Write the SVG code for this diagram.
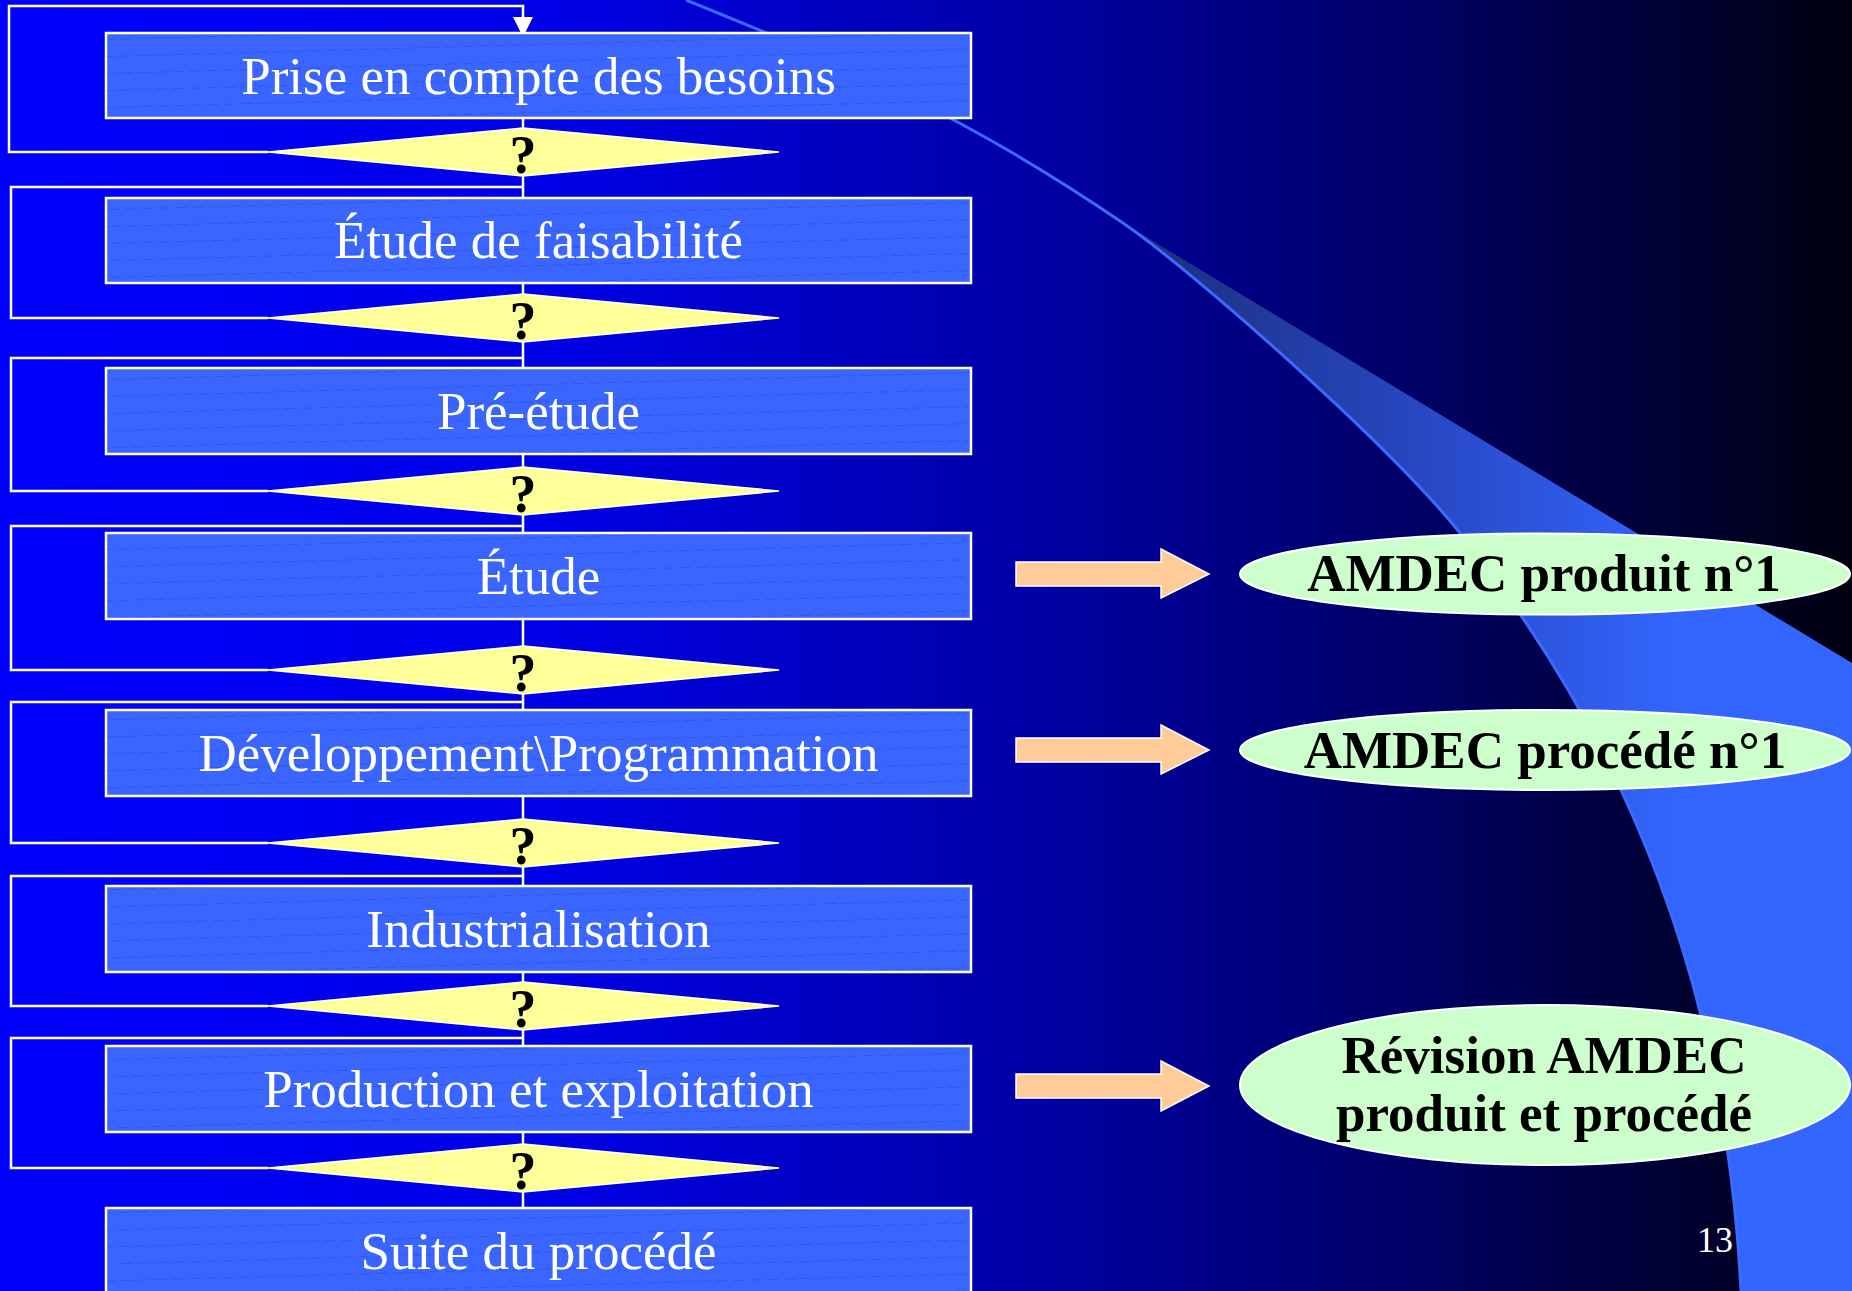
<svg xmlns="http://www.w3.org/2000/svg" width="1852" height="1291" viewBox="0 0 1852 1291">
<defs>
<linearGradient id="bg" gradientUnits="userSpaceOnUse" x1="0" y1="0" x2="1852" y2="0">
<stop offset="0" stop-color="#0000FF"/>
<stop offset="0.3" stop-color="#0000E6"/>
<stop offset="0.55" stop-color="#0000A8"/>
<stop offset="0.78" stop-color="#000060"/>
<stop offset="1" stop-color="#000010"/>
</linearGradient>
<linearGradient id="swoosh" gradientUnits="userSpaceOnUse" x1="1120" y1="0" x2="1680" y2="0">
<stop offset="0" stop-color="#1A2D78"/>
<stop offset="0.55" stop-color="#2848C4"/>
<stop offset="1" stop-color="#3366FF"/>
</linearGradient>
<pattern id="hatch" patternUnits="userSpaceOnUse" width="2400" height="17" patternTransform="rotate(-1.6)">
<rect width="2400" height="17" fill="#3A66FF"/>
<line x1="0" y1="8.5" x2="2400" y2="8.5" stroke="#2E58EA" stroke-width="1" stroke-dasharray="12 5"/>
</pattern>
<style>
.box{fill:url(#hatch);stroke:#FFFFFF;stroke-width:2.5}
.btxt{font-family:"Liberation Serif","Times New Roman",serif;font-size:53px;fill:#FFFFFF;text-anchor:middle}
.dia{fill:#FFFF99;stroke:#FFFFFF;stroke-width:1.5}
.q{font-family:"Liberation Serif","Times New Roman",serif;font-size:54px;font-weight:bold;fill:#000000;text-anchor:middle}
.con{fill:none;stroke:#FFFFFF;stroke-width:2.5}
.arr{fill:#FFCC99;stroke:#FFFFFF;stroke-width:1.5}
.ell{fill:#CCFFCC;stroke:#FFFFFF;stroke-width:2}
.etxt{font-family:"Liberation Serif","Times New Roman",serif;font-size:53px;font-weight:bold;fill:#000000;text-anchor:middle}
</style>
</defs>
<rect x="0" y="0" width="1852" height="1291" fill="url(#bg)"/>
<g id="swoosh-bg">
<path d="M1123,223 C1193,270.9 1390,445.5 1460,533 C1630,745.5 1726,991 1741,1291 L1852,1291 L1852,663 Z" fill="url(#swoosh)"/>
<path d="M686,0 C846,64.8 963,113.6 1123,223 C1193,270.9 1390,445.5 1460,533 C1630,745.5 1726,991 1741,1291" fill="none" stroke="#3A6AFF" stroke-width="3"/>
</g>
<g id="connectors">
<path class="con" d="M268,152 H9 V6 H523 V20"/>
<polygon points="513,17 533,17 523,37" fill="#FFFFFF"/>
<line class="con" x1="523" y1="118" x2="523" y2="128"/>
<line class="con" x1="523" y1="176" x2="523" y2="198"/>
<path class="con" d="M268,318 H11 V187 H523"/>
<line class="con" x1="523" y1="283" x2="523" y2="294"/>
<line class="con" x1="523" y1="342" x2="523" y2="368"/>
<path class="con" d="M268,491 H11 V358 H523"/>
<line class="con" x1="523" y1="454" x2="523" y2="467"/>
<line class="con" x1="523" y1="515" x2="523" y2="533"/>
<path class="con" d="M268,670 H11 V526 H523"/>
<line class="con" x1="523" y1="619" x2="523" y2="646"/>
<line class="con" x1="523" y1="694" x2="523" y2="710"/>
<path class="con" d="M268,843 H11 V702 H523"/>
<line class="con" x1="523" y1="796" x2="523" y2="819"/>
<line class="con" x1="523" y1="867" x2="523" y2="886"/>
<path class="con" d="M268,1006 H11 V876 H523"/>
<line class="con" x1="523" y1="972" x2="523" y2="982"/>
<line class="con" x1="523" y1="1030" x2="523" y2="1046"/>
<path class="con" d="M268,1168 H11 V1038 H523"/>
<line class="con" x1="523" y1="1132" x2="523" y2="1144"/>
<line class="con" x1="523" y1="1192" x2="523" y2="1208"/>
</g>
<g id="box1"><rect class="box" x="106" y="33" width="865" height="85"/><text class="btxt" x="538.5" y="94">Prise en compte des besoins</text></g>
<g id="dia1"><polygon class="dia" points="268,152 523,128 779,152 523,176"/><text class="q" x="523" y="173">?</text></g>
<g id="box2"><rect class="box" x="106" y="198" width="865" height="85"/><text class="btxt" x="538.5" y="258">Étude de faisabilité</text></g>
<g id="dia2"><polygon class="dia" points="268,318 523,294 779,318 523,342"/><text class="q" x="523" y="339">?</text></g>
<g id="box3"><rect class="box" x="106" y="368" width="865" height="86"/><text class="btxt" x="538.5" y="429">Pré-étude</text></g>
<g id="dia3"><polygon class="dia" points="268,491 523,467 779,491 523,515"/><text class="q" x="523" y="512">?</text></g>
<g id="box4"><rect class="box" x="106" y="533" width="865" height="86"/><text class="btxt" x="538.5" y="594">Étude</text></g>
<g id="dia4"><polygon class="dia" points="268,670 523,646 779,670 523,694"/><text class="q" x="523" y="691">?</text></g>
<g id="box5"><rect class="box" x="106" y="710" width="865" height="86"/><text class="btxt" x="538.5" y="771">Développement\Programmation</text></g>
<g id="dia5"><polygon class="dia" points="268,843 523,819 779,843 523,867"/><text class="q" x="523" y="864">?</text></g>
<g id="box6"><rect class="box" x="106" y="886" width="865" height="86"/><text class="btxt" x="538.5" y="947">Industrialisation</text></g>
<g id="dia6"><polygon class="dia" points="268,1006 523,982 779,1006 523,1030"/><text class="q" x="523" y="1027">?</text></g>
<g id="box7"><rect class="box" x="106" y="1046" width="865" height="86"/><text class="btxt" x="538.5" y="1107">Production et exploitation</text></g>
<g id="dia7"><polygon class="dia" points="268,1168 523,1144 779,1168 523,1192"/><text class="q" x="523" y="1189">?</text></g>
<g id="box8"><rect class="box" x="106" y="1208" width="865" height="100"/><text class="btxt" x="538.5" y="1269">Suite du procédé</text></g>
<g id="arrow1"><polygon class="arr" points="1016,562 1161,562 1161,549 1209,574 1161,598 1161,586 1016,586"/></g>
<g id="arrow2"><polygon class="arr" points="1016,738 1161,738 1161,725 1209,750 1161,774 1161,762 1016,762"/></g>
<g id="arrow3"><polygon class="arr" points="1016,1074 1161,1074 1161,1061 1209,1086 1161,1111 1161,1098 1016,1098"/></g>
<g id="amdec1"><ellipse class="ell" cx="1545" cy="574" rx="305" ry="40.5"/><text class="etxt" x="1544" y="591">AMDEC produit n°1</text></g>
<g id="amdec2"><ellipse class="ell" cx="1545" cy="750" rx="305" ry="40"/><text class="etxt" x="1545" y="768">AMDEC procédé n°1</text></g>
<g id="revision"><ellipse class="ell" cx="1545" cy="1085" rx="305" ry="80"/><text class="etxt" x="1544" y="1073">Révision AMDEC</text><text class="etxt" x="1544" y="1131">produit et procédé</text></g>
<text x="1715" y="1252" font-family="Liberation Serif, Times New Roman, serif" font-size="36" fill="#FFFFFF" text-anchor="middle">13</text>
</svg>
